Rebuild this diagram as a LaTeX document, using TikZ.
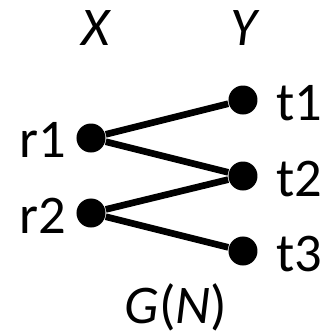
\documentclass[tikz,border=0pt]{standalone}
\usepackage{fontspec}
\setmainfont{Carlito}
\usepackage{tikz}
\usetikzlibrary{positioning}

\begin{document}
\begin{tikzpicture}[
    x=0.01cm, y=-0.01cm,
    every node/.style={font=\fontsize{15.5}{18}\selectfont},
    vtx/.style={circle, fill=black, inner sep=0pt, minimum size=0.29cm},
    vlabel/.style={anchor=base, inner sep=0pt},
    edge/.style={line width=1.9pt}
]
\useasboundingbox (0,0) rectangle (332,332);

% ── column titles ──
\node[vlabel] (tx) at (97, 45) {\textit{X}};
\node[vlabel] (ty) at (245, 45) {\textit{Y}};

% ── left side X ──
\node[vtx] (r1) at (91, 138) {};
\node[vtx] (r2) at (91, 213) {};
\node[vlabel] (lr1) at (43, 157) {r1};
\node[vlabel] (lr2) at (43, 233) {r2};

% ── right side Y ──
\node[vtx] (t1) at (243, 100) {};
\node[vtx] (t2) at (243, 176) {};
\node[vtx] (t3) at (243, 251) {};
\node[vlabel] (lt1) at (299, 120) {t1};
\node[vlabel] (lt2) at (299, 196) {t2};
\node[vlabel] (lt3) at (299, 271) {t3};

\draw[edge] (r1) -- (t1);
\draw[edge] (r1) -- (t2);
\draw[edge] (r2) -- (t2);
\draw[edge] (r2) -- (t3);

% ── caption ──
\node[vlabel] (cap) at (176, 323) {\textit{G}(\textit{N})};

\end{tikzpicture}
\end{document}
